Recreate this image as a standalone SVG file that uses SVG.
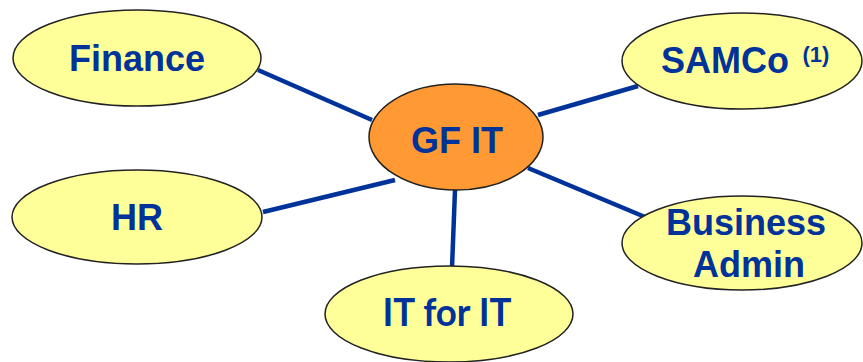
<svg xmlns="http://www.w3.org/2000/svg" width="863" height="362" viewBox="0 0 863 362">
<style>
.n{fill:#FFFF99;stroke:#222;stroke-width:1.5}
.c{fill:#FF9933;stroke:#222;stroke-width:1.5}
.t{font-family:"Liberation Sans",Arial,sans-serif;font-weight:bold;font-size:36px;fill:#003399;text-anchor:middle}
.k{font-family:Lato,"Open Sans",sans-serif;font-weight:bold;font-size:38px;fill:#003399;text-anchor:middle}
.e line{stroke:#003399;stroke-width:4.5}
</style>
<rect width="863" height="362" fill="#fff"/>
<g id="edges" class="e">
<line x1="258" y1="70" x2="372" y2="120"/>
<line x1="538" y1="115" x2="638" y2="86"/>
<line x1="263" y1="212" x2="395" y2="180"/>
<line x1="528" y1="168" x2="645" y2="217"/>
<line x1="455" y1="190" x2="452" y2="268"/>
</g>
<g id="finance"><ellipse class="n" cx="137" cy="58" rx="124" ry="48"/><text class="t" x="137" y="71">Finance</text></g>
<g id="samco"><ellipse class="n" cx="742" cy="61" rx="120" ry="48"/><text class="t" x="725" y="73">SAMCo</text><text class="t" x="816" y="62" style="font-size:22px">(1)</text></g>
<g id="hr"><ellipse class="n" cx="137" cy="217" rx="125" ry="47"/><text class="t" x="137" y="230">HR</text></g>
<g id="bizadmin"><ellipse class="n" cx="742" cy="243" rx="120" ry="47"/><text class="t" x="746" y="235">Business</text><text class="t" x="749" y="277">Admin</text></g>
<g id="itforit"><ellipse class="n" cx="449" cy="314" rx="124" ry="48"/><text class="k" x="447" y="326" textLength="129" lengthAdjust="spacingAndGlyphs">IT for IT</text></g>
<g id="gfit"><ellipse class="c" cx="456" cy="137" rx="87" ry="53"/><text class="t" x="457" y="153">GF IT</text></g>
</svg>
